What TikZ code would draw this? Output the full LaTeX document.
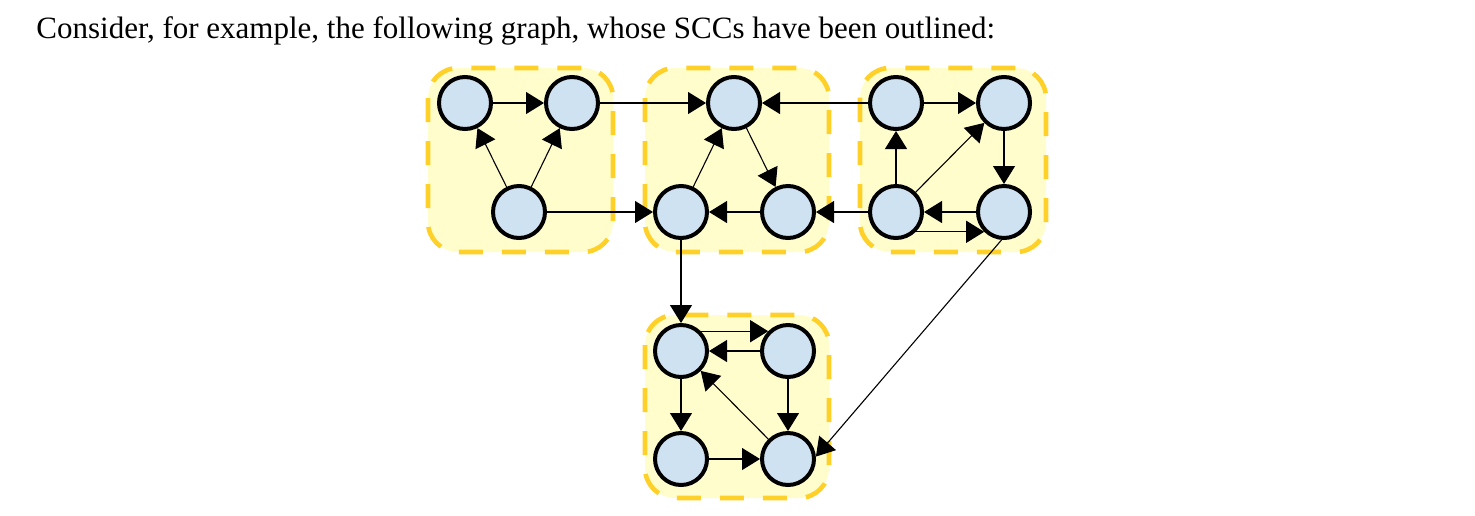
\documentclass[tikz,border=0pt]{standalone}
\usepackage{fontspec}
\setmainfont{Liberation Serif}
\usetikzlibrary{arrows.meta}
\definecolor{sccfill}{RGB}{255,253,204}
\definecolor{sccline}{RGB}{255,208,40}
\definecolor{vfill}{RGB}{207,226,242}
\tikzset{
  vtx/.style={circle,draw=black,fill=vfill,line width=2pt,minimum size=26pt,inner sep=0pt},
  scc/.style={fill=sccfill,draw=sccline,line width=2.3pt,dash pattern=on 12pt off 9.5pt,rounded corners=15pt},
  arr/.style={line width=0.55pt,-{Triangle[length=9pt,width=11pt]}},
}
\begin{document}
\begin{tikzpicture}[x=0.5pt,y=-0.5pt]
\useasboundingbox (0,0) rectangle (1475,515);
\node[anchor=base west,font=\fontsize{15.5pt}{18pt}\selectfont,inner sep=0pt] (title) at (36,38) {Consider, for example, the following graph, whose SCCs have been outlined:};
% SCC boxes
\draw[scc] (428,68) rectangle (613,252);
\draw[scc] (645,68) rectangle (829,252);
\draw[scc] (860,68) rectangle (1046,252);
\draw[scc] (645,315) rectangle (829,498);
% vertices
\node[vtx] (A) at (465,103) {};
\node[vtx] (B) at (572,103) {};
\node[vtx] (C) at (519,212) {};
\node[vtx] (D) at (734,103) {};
\node[vtx] (E) at (681,212) {};
\node[vtx] (F) at (788,212) {};
\node[vtx] (G) at (896,103) {};
\node[vtx] (H) at (1004,103) {};
\node[vtx] (I) at (896,212) {};
\node[vtx] (J) at (1004,212) {};
\node[vtx] (K) at (681,351) {};
\node[vtx] (L) at (788,351) {};
\node[vtx] (M) at (681,459) {};
\node[vtx] (N) at (788,459) {};
% edges
\draw[arr] (A) -- (B);
\draw[arr] (C) -- (A);
\draw[arr] (C) -- (B);
\draw[arr] (B) -- (D);
\draw[arr] (C) -- (E);
\draw[arr] (E) -- (D);
\draw[arr] (D) -- (F);
\draw[arr] (F) -- (E);
\draw[arr] (G) -- (D);
\draw[arr] (I) -- (F);
\draw[arr] (G) -- (H);
\draw[arr] (I) -- (G);
\draw[arr] (I) -- (H);
\draw[arr] (H) -- (J);
\draw[arr] (J) -- (I);
\draw[arr] (I.-45) -- (J.-135);
\draw[arr] (J.-95) -- (N.5);
\draw[arr] (E) -- (K);
\draw[arr] (K.45) -- (L.135);
\draw[arr] (L) -- (K);
\draw[arr] (K) -- (M);
\draw[arr] (L) -- (N);
\draw[arr] (M) -- (N);
\draw[arr] (N) -- (K);
\end{tikzpicture}
\end{document}
